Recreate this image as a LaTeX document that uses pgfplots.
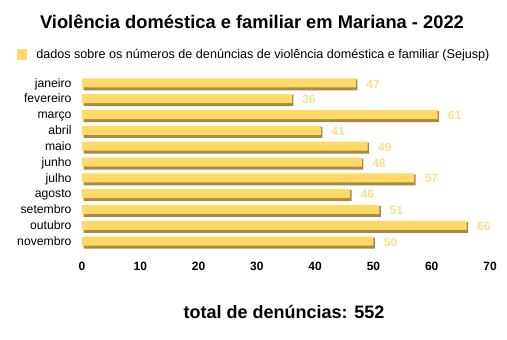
\documentclass[border=0pt]{standalone}
\usepackage{pgfplots}
\pgfplotsset{compat=1.18}
\usepackage{fontspec}
\setmainfont{Liberation Sans}
\definecolor{baryellow}{HTML}{FFD966}
\definecolor{barshadow}{HTML}{A88B42}
\definecolor{lbl}{HTML}{F9DF8E}
\begin{document}
\begin{tikzpicture}[x=1bp,y=1bp]
\path[use as bounding box] (0,0) rectangle (507,339);
\begin{axis}[
  at={(82bp,89bp)}, anchor=south west,
  scale only axis, width=408bp, height=174bp,
  xmin=0, xmax=70, ymin=-0.5, ymax=10.5,
  y dir=reverse,
  xtick={0,10,...,70},
  ytick={0,...,10},
  yticklabels={janeiro,fevereiro,março,abril,maio,junho,julho,agosto,setembro,outubro,novembro},
  axis x line*=bottom, axis y line*=left,
  x axis line style={draw=none}, y axis line style={draw=none},
  major tick length=0pt,
  /pgf/number format/assume math mode=true,
  xticklabel={\textbf{\pgfmathprintnumber{\tick}}},
  xticklabel style={font=\fontsize{12bp}{14bp}\selectfont, yshift=-9bp},
  yticklabel style={font=\fontsize{12.2bp}{14bp}\selectfont, xshift=-7bp, text height=9bp, text depth=2.5bp},
  legend style={at={(-0.159,1.121)}, anchor=west, draw=none, fill=none,
    font=\fontsize{12.6bp}{14bp}\selectfont, inner sep=0pt},
  legend cell align=left,
  clip=false,
]
\addplot[xbar, bar width=11bp, bar shift=-1bp, fill=barshadow, draw=none, xshift=1.5bp, forget plot]
  coordinates {(47,0) (36,1) (61,2) (41,3) (49,4) (48,5) (57,6) (46,7) (51,8) (66,9) (50,10)};
\addplot[xbar, bar width=9bp, bar shift=1bp, fill=baryellow, draw=none,
  nodes near coords, point meta=x,
  nodes near coords style={anchor=west, xshift=7bp, text=lbl, font=\bfseries\fontsize{12bp}{14bp}\selectfont},
  legend image code/.code={\fill[baryellow] (0bp,-5bp) rectangle (10bp,5.5bp);}]
  coordinates {(47,0) (36,1) (61,2) (41,3) (49,4) (48,5) (57,6) (46,7) (51,8) (66,9) (50,10)};
\addlegendentry{\hspace{7bp}dados sobre os números de denúncias de violência doméstica e familiar (Sejusp)}
\end{axis}
\node[font=\bfseries\fontsize{18.3bp}{21bp}\selectfont] at (252,317) {Violência doméstica e familiar em Mariana - 2022};
\node[font=\bfseries\fontsize{18bp}{21bp}\selectfont] at (284,27) {total de denúncias: 552};
\end{tikzpicture}
\end{document}
